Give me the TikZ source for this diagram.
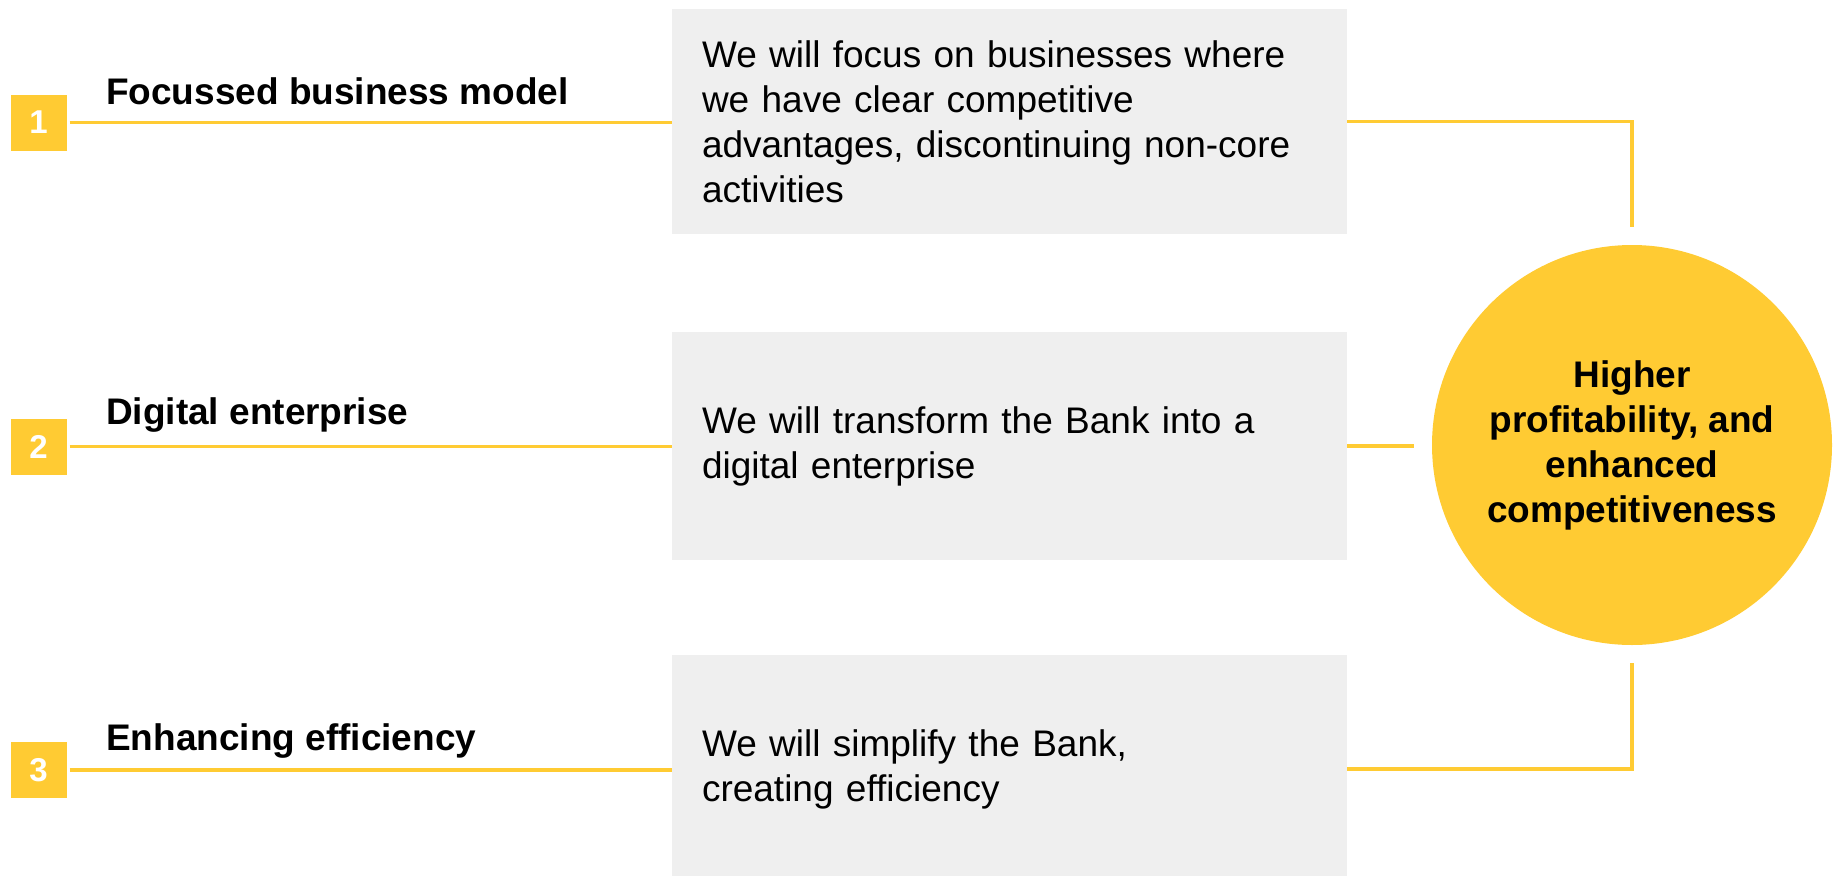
\documentclass[tikz,border=0pt]{standalone}
\usepackage{fontspec}
\setmainfont{Liberation Sans}
\definecolor{gold}{HTML}{FFCB33}
\definecolor{pale}{HTML}{EFEFEF}
\begin{document}
\begin{tikzpicture}[x=1pt,y=-1pt,
  num/.style={fill=gold,text=white,font=\bfseries\fontsize{33}{33}\selectfont,minimum size=56pt,inner sep=0pt},
  ttl/.style={anchor=west,font=\bfseries\fontsize{37}{45}\selectfont,inner sep=0pt},
  box/.style={fill=pale,minimum width=675pt,text width=615pt,inner xsep=30pt,align=left,font=\fontsize{37}{45}\selectfont},
  goalnode/.style={circle,fill=gold,minimum size=400pt,outer sep=18pt,align=center,font=\bfseries\fontsize{37}{45}\selectfont},
  link/.style={draw=gold,line width=3.5pt}]
\useasboundingbox (0,0) rectangle (1835,875);
% left column: numbers and headings
\node[num] (n1) at (38.5,122.5) {1};
\node[num] (n2) at (38.5,446.5) {2};
\node[num] (n3) at (38.5,770) {3};
\node[ttl] (t1) at (106,91) {Focussed business model};
\node[ttl] (t2) at (106,415) {Digital enterprise};
\node[ttl] (t3) at (106,741) {Enhancing efficiency};
% grey boxes
\node[box,minimum height=225pt] (b1) at (1009.5,121.5) {We will focus on businesses where\\we have clear competitive\\advantages, discontinuing non-core\\activities};
\node[box,minimum height=228pt] (b2) at (1009.5,446) {We will transform the Bank into a\\digital enterprise};
\node[box,minimum height=228pt] (b3) at (1009.5,769) {We will simplify the Bank,\\creating efficiency};
% target
\node[goalnode] (goal) at (1632,445) {Higher\\profitability, and\\enhanced\\competitiveness};
% connectors
\path[link] ([xshift=3pt]n1.east) -- (n1.east -| b1.west);
\path[link] ([xshift=3pt]n2.east) -- (n2.east -| b2.west);
\path[link] ([xshift=3pt]n3.east) -- (n3.east -| b3.west);
\path[link] (b1.east) -| (goal.north);
\path[link] (b2.east) -- (b2.east -| goal.west);
\path[link] (b3.east) -| (goal.south);
\end{tikzpicture}
\end{document}
